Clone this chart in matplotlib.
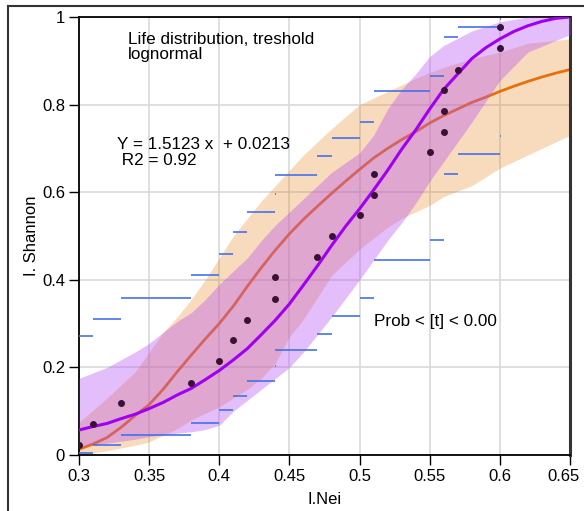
import matplotlib
matplotlib.use("Agg")
import matplotlib.pyplot as plt
from matplotlib.lines import Line2D
import matplotlib.transforms as mtransforms

plt.rcParams['font.family'] = ['Liberation Sans', 'DejaVu Sans']

# observed points
pts_x = [0.30, 0.31, 0.33, 0.38, 0.40, 0.41, 0.42, 0.44, 0.44, 0.47, 0.48,
         0.50, 0.51, 0.51, 0.55, 0.56, 0.56, 0.56, 0.57, 0.60, 0.60]
pts_y = [0.023, 0.071, 0.119, 0.165, 0.214, 0.263, 0.308, 0.356, 0.406, 0.451, 0.500,
         0.548, 0.594, 0.642, 0.691, 0.737, 0.785, 0.834, 0.880, 0.929, 0.977]

# step confidence bounds (x start, x end, y)
upper_x0 = [0.30, 0.31, 0.33, 0.38, 0.40, 0.41, 0.42, 0.44, 0.44, 0.47, 0.48, 0.50, 0.51, 0.51, 0.55, 0.56, 0.56, 0.56, 0.57, 0.60]
upper_x1 = [0.31, 0.33, 0.38, 0.40, 0.41, 0.42, 0.44, 0.4405, 0.47, 0.48, 0.50, 0.51, 0.5105, 0.55, 0.56, 0.5605, 0.5605, 0.57, 0.60, 0.6005]
upper_y = [0.271, 0.310, 0.359, 0.411, 0.459, 0.509, 0.555, 0.597, 0.640, 0.683, 0.724, 0.760, 0.797, 0.832, 0.866, 0.897, 0.925, 0.955, 0.977, 0.995]
lower_x0 = upper_x0
lower_x1 = upper_x1
lower_y = [0.005, 0.022, 0.046, 0.074, 0.102, 0.134, 0.168, 0.203, 0.240, 0.277, 0.317, 0.359, 0.402, 0.445, 0.491, 0.540, 0.590, 0.641, 0.688, 0.728]

# fitted curves
curve_x = [0.30, 0.31, 0.32, 0.33, 0.34, 0.35, 0.36, 0.37, 0.38, 0.39, 0.40, 0.41, 0.42,
           0.43, 0.44, 0.45, 0.46, 0.47, 0.48, 0.49, 0.50, 0.51, 0.52, 0.53, 0.54, 0.55,
           0.56, 0.57, 0.58, 0.59, 0.60, 0.61, 0.62, 0.63, 0.64, 0.65]
orange_y = [0.013, 0.025, 0.040, 0.063, 0.090, 0.115, 0.150, 0.190, 0.228, 0.265, 0.300, 0.340, 0.385,
            0.428, 0.468, 0.505, 0.538, 0.568, 0.597, 0.625, 0.652, 0.678, 0.700, 0.720, 0.738, 0.758,
            0.775, 0.790, 0.805, 0.817, 0.830, 0.842, 0.853, 0.863, 0.872, 0.880]
purple_y = [0.057, 0.065, 0.072, 0.083, 0.093, 0.106, 0.120, 0.137, 0.152, 0.172, 0.193, 0.217, 0.243,
            0.275, 0.308, 0.345, 0.388, 0.432, 0.478, 0.522, 0.562, 0.605, 0.650, 0.698, 0.742, 0.790,
            0.835, 0.870, 0.905, 0.930, 0.950, 0.967, 0.980, 0.990, 0.997, 1.000]

# confidence bands
band_x = [0.30, 0.32, 0.34, 0.35, 0.36, 0.37, 0.38, 0.39, 0.40, 0.41, 0.42, 0.43, 0.44, 0.45,
          0.46, 0.48, 0.50, 0.51, 0.52, 0.53, 0.54, 0.55, 0.56, 0.58, 0.60, 0.62, 0.65]
orange_hi = [0.075, 0.130, 0.190, 0.235, 0.280, 0.315, 0.355, 0.400, 0.450, 0.500, 0.540, 0.580, 0.615, 0.650,
             0.685, 0.745, 0.800, 0.815, 0.830, 0.845, 0.860, 0.873, 0.885, 0.905, 0.920, 0.940, 0.950]
orange_lo = [0.000, 0.010, 0.022, 0.030, 0.045, 0.060, 0.080, 0.095, 0.110, 0.130, 0.150, 0.175, 0.210, 0.270,
             0.310, 0.410, 0.470, 0.495, 0.520, 0.540, 0.555, 0.570, 0.590, 0.615, 0.655, 0.685, 0.730]
purple_hi = [0.175, 0.200, 0.235, 0.255, 0.280, 0.305, 0.325, 0.355, 0.390, 0.420, 0.450, 0.490, 0.525, 0.555,
             0.585, 0.645, 0.690, 0.730, 0.790, 0.835, 0.870, 0.910, 0.935, 0.968, 0.989, 1.000, 1.000]
purple_lo = [0.019, 0.027, 0.036, 0.042, 0.046, 0.050, 0.053, 0.058, 0.068, 0.100, 0.125, 0.150, 0.175, 0.200,
             0.235, 0.315, 0.400, 0.445, 0.490, 0.530, 0.575, 0.625, 0.670, 0.760, 0.855, 0.920, 0.960]

x_ticks = [0.3, 0.35, 0.4, 0.45, 0.5, 0.55, 0.6, 0.65]
x_labels = ['0.3', '0.35', '0.4', '0.45', '0.5', '0.55', '0.6', '0.65']
y_ticks = [0, 0.2, 0.4, 0.6, 0.8, 1.0]
y_labels = ['0', '0.2', '0.4', '0.6', '0.8', '1']

fig = plt.figure(figsize=(5.84, 5.11), dpi=100)
ax = fig.add_axes([79/584, 56/511, 491/584, 438/511])

ax.fill_between(band_x, orange_lo, orange_hi, color='#E67E14', alpha=0.28, lw=0, zorder=1)
ax.plot(curve_x, orange_y, color='#E8700A', lw=2, zorder=2)
ax.fill_between(band_x, purple_lo, purple_hi, color='#B54CF4', alpha=0.36, lw=0, zorder=3)
ax.hlines(upper_y, upper_x0, upper_x1, color='#4472E6', lw=1.2, zorder=4)
ax.hlines(lower_y, lower_x0, lower_x1, color='#4472E6', lw=1.2, zorder=4)
ax.plot(curve_x, purple_y, color='#A000F2', lw=2.2, zorder=5)
ax.plot(pts_x, pts_y, 'o', color='#3b1038', ms=4, zorder=6, ls='none')

ax.set_xlim(0.3, 0.65)
ax.set_ylim(0, 1)
ax.set_xticks(x_ticks)
ax.set_xticklabels(x_labels)
ax.set_yticks(y_ticks)
ax.set_yticklabels(y_labels)
ax.tick_params(labelsize=12, length=7, width=1, direction='out', color='black', pad=3)
ax.tick_params(axis='x', top=False)
ax.tick_params(axis='y', right=False)
ax.grid(True, color='#d9d9d9', lw=1.2, zorder=0)
ax.set_axisbelow(True)
for s in ['left', 'bottom', 'top']:
    ax.spines[s].set_color('black')
    ax.spines[s].set_linewidth(1.3)
ax.spines['right'].set_color('#333333')
ax.spines['right'].set_linewidth(2.2)

# shift the last x tick label left so it stays inside the figure
last = ax.get_xticklabels()[-1]
last.set_transform(last.get_transform() + mtransforms.ScaledTranslation(-7/100, 0, fig.dpi_scale_trans))

ax.set_xlabel('I.Nei', fontsize=12, labelpad=6)
ax.set_ylabel('I. Shannon', fontsize=12, labelpad=2)

ax.text(0.335, 0.966, 'Life distribution, treshold\nlognormal', fontsize=12.3,
        va='top', ha='left', linespacing=1.05)
ax.text(0.327, 0.725, 'Y = 1.5123 x  + 0.0213\n R2 = 0.92', fontsize=12.3,
        va='top', ha='left', linespacing=1.05)
ax.text(0.510, 0.322, 'Prob < [t] < 0.00', fontsize=12.3, va='top', ha='left')

# outer frame
fx = 7.5 / 584
fy = 1 - 5.7 / 511
fig.add_artist(Line2D([fx, fx], [0, fy], color='#333333', lw=1.5, transform=fig.transFigure))
fig.add_artist(Line2D([fx, 1], [fy, fy], color='#333333', lw=1.5, transform=fig.transFigure))

fig.savefig('out.png', dpi=100)
